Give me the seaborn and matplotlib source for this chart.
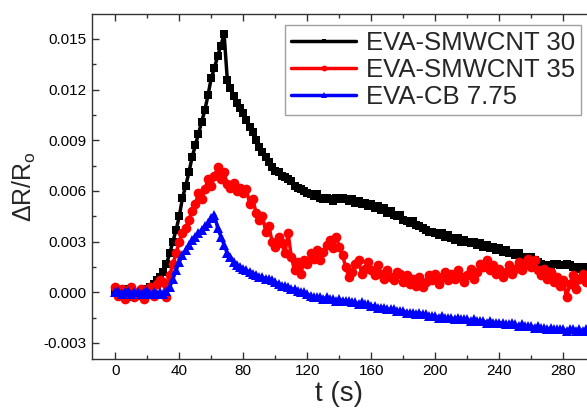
import numpy as np
import pandas as pd
import seaborn as sns
import matplotlib.pyplot as plt
from matplotlib.ticker import MultipleLocator

# ==============================
# Data (read off the figure), values in units of 1e-4, sampled every 2 s
# ==============================
t = np.arange(0, 296, 2)

smwcnt30 = [
    1, -1, 0, 2, -1, -2, -3, -2, -1, 0,            # 0-18 s
    2, 3, 5, 7, 9, 12, 17, 23, 30, 37,             # 20-38
    45, 56, 63, 71, 80, 87, 94, 101, 108, 117,     # 40-58
    127, 133, 140, 146, 153, 126, 121, 116, 112, 109,
    106, 102, 98, 95, 90, 86, 83, 80, 77, 74,
    72, 71, 69, 68, 67, 66, 63, 62, 61, 60,
    59, 58, 57, 58, 56, 55, 56, 55, 54, 56,
    55, 56, 55, 54, 55, 53, 54, 52, 53, 51,
    52, 50, 51, 49, 50, 47, 48, 46, 45, 46,
    43, 42, 41, 42, 40, 39, 38, 37, 36, 36,
    35, 34, 35, 33, 34, 32, 31, 32, 30, 31,
    30, 29, 30, 28, 29, 27, 28, 26, 27, 25,
    26, 24, 25, 23, 23, 22, 23, 21, 21, 20,
    21, 19, 18, 17, 16, 15, 16, 17, 17, 16,
    16, 17, 16, 15, 15, 14, 15, 14,                # 280-294
]

smwcnt35 = [
    3, -2, 2, -4, 1, 3, -3, 0, 2, -4,
    -1, 3, -2, 5, 7, 6, -3, 10, 17, 23,
    30, 35, 38, 43, 48, 52, 59, 55, 61, 67,
    63, 69, 74, 67, 71, 64, 62, 65, 60, 62,
    59, 61, 52, 55, 47, 43, 45, 36, 39, 30,
    27, 33, 29, 23, 35, 21, 13, 18, 11, 19,
    17, 23, 20, 25, 19, 24, 28, 31, 26, 33,
    27, 22, 15, 9, 12, 17, 19, 11, 14, 18,
    13, 10, 16, 11, 8, 13, 9, 7, 12, 11,
    6, 10, 5, 8, 4, 9, 3, 6, 10, 7,
    11, 5, 9, 12, 7, 11, 8, 13, 9, 6,
    10, 14, 8, 12, 17, 15, 19, 13, 16, 11,
    14, 9, 12, 16, 11, 14, 18, 13, 17, 20,
    15, 19, 13, 10, 14, 8, 12, 6, 9, 4,
    7, -3, 5, 10, 2, 8, 11, 6,
]

cb775 = [
    0, 1, -1, 0, 1, -1, 0, 0, -1, 0,
    1, -1, 0, -1, 0, -1, 1, 3, 8, 13,
    18, 22, 25, 28, 31, 33, 35, 37, 39, 41,
    44, 46, 38, 33, 28, 23, 21, 18, 16, 15,
    14, 13, 12, 11, 10, 9, 9, 8, 8, 7,
    6, 5, 4, 4, 3, 2, 2, 1, 0, 0,
    -1, -2, -3, -3, -3, -4, -3, -4, -4, -5,
    -4, -5, -5, -5, -6, -6, -7, -6, -7, -7,
    -8, -8, -9, -9, -9, -10, -10, -10, -11, -11,
    -11, -12, -12, -12, -13, -12, -13, -13, -14, -14,
    -14, -15, -14, -15, -15, -15, -16, -15, -16, -16,
    -16, -17, -16, -17, -17, -17, -18, -17, -18, -18,
    -18, -18, -19, -19, -18, -19, -20, -19, -20, -20,
    -20, -21, -20, -21, -21, -22, -21, -22, -22, -22,
    -22, -23, -22, -22, -23, -22, -23, -22,
]

labels = ["EVA-SMWCNT 30", "EVA-SMWCNT 35", "EVA-CB 7.75"]
colors = {"EVA-SMWCNT 30": "black", "EVA-SMWCNT 35": "#ff0000", "EVA-CB 7.75": "#0000ff"}
markers = {"EVA-SMWCNT 30": "s", "EVA-SMWCNT 35": "o", "EVA-CB 7.75": "^"}
msizes = {"EVA-SMWCNT 30": 6, "EVA-SMWCNT 35": 7, "EVA-CB 7.75": 6.5}

df = pd.concat([
    pd.DataFrame({"t": t, "dR": np.array(v) * 1e-4, "sample": lab})
    for lab, v in zip(labels, [smwcnt30, smwcnt35, cb775])
])

# ==============================
# Plot
# ==============================
sns.set_style("ticks")
plt.rcParams["font.family"] = ["Liberation Sans", "DejaVu Sans"]
plt.rcParams["mathtext.fontset"] = "custom"
plt.rcParams["mathtext.rm"] = "Liberation Sans"
plt.rcParams["mathtext.it"] = "Liberation Sans:italic"

fig = plt.figure(figsize=(5.87, 4.18), dpi=100)
ax = fig.add_axes([0.1562, 0.1411, 0.8438, 0.8254])

for lab in labels:
    sns.lineplot(
        data=df[df["sample"] == lab], x="t", y="dR",
        color=colors[lab], marker=markers[lab], markersize=msizes[lab],
        markeredgewidth=0, linewidth=2.5, label=lab, ax=ax,
    )

ax.set_xlim(-14.75, 294.8)
ax.set_ylim(-0.00395, 0.01648)
ax.xaxis.set_major_locator(MultipleLocator(40))
ax.xaxis.set_minor_locator(MultipleLocator(20))
ax.yaxis.set_major_locator(MultipleLocator(0.003))
ax.yaxis.set_minor_locator(MultipleLocator(0.0015))
ax.yaxis.set_major_formatter(plt.FormatStrFormatter("%.3f"))

ax.tick_params(which="both", direction="in", top=True, right=False,
               colors="#333333", labelcolor="black", width=1)
ax.tick_params(which="major", length=5, labelsize=11)
ax.tick_params(which="minor", length=3)
for side in ["left", "bottom", "top"]:
    ax.spines[side].set_visible(True)
    ax.spines[side].set_color("#333333")
    ax.spines[side].set_linewidth(1)
ax.spines["right"].set_visible(False)

ax.set_xlabel("t (s)", fontsize=20, labelpad=2)
ax.set_ylabel(r"$\Delta$R/R$_{\rm o}$", fontsize=18, labelpad=4)

ax.legend(
    loc="upper left", bbox_to_anchor=(285 / 587, 1 - 25 / 418),
    bbox_transform=fig.transFigure, fontsize=18.5, frameon=True,
    fancybox=False, edgecolor="#888888", handlelength=2.5, markerscale=0.6,
    labelspacing=0.1, borderpad=0.25, handletextpad=0.4, borderaxespad=0,
)

fig.savefig("out.png", dpi=100)
